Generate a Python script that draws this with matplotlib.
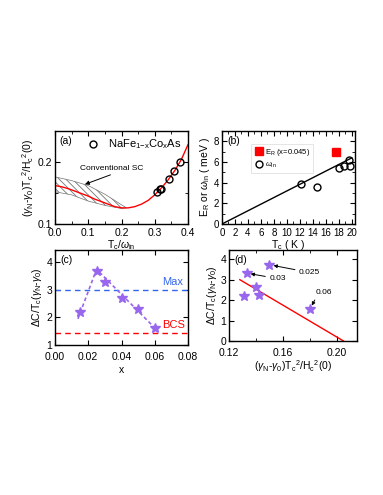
import numpy as np
import matplotlib
matplotlib.use('Agg')
import matplotlib.pyplot as plt

plt.rcParams['font.family'] = ['Liberation Sans', 'DejaVu Sans']
plt.rcParams['font.size'] = 7.5
plt.rcParams['mathtext.fontset'] = 'custom'
plt.rcParams['mathtext.rm'] = 'Liberation Sans'
plt.rcParams['mathtext.it'] = 'Liberation Sans:italic'
plt.rcParams['hatch.linewidth'] = 0.6

# panel (a) data
curve_x = [0, 0.02, 0.04, 0.06, 0.08, 0.10, 0.12, 0.14, 0.16, 0.18, 0.20,
           0.22, 0.24, 0.26, 0.28, 0.30, 0.32, 0.34, 0.36, 0.38, 0.40]
curve_y = [0.162, 0.160, 0.157, 0.153, 0.149, 0.145, 0.140, 0.136, 0.132, 0.128, 0.126,
           0.126, 0.128, 0.132, 0.138, 0.147, 0.158, 0.171, 0.186, 0.204, 0.228]
na_x = [0.308, 0.316, 0.320, 0.342, 0.357, 0.375]
na_y = [0.151, 0.156, 0.157, 0.173, 0.185, 0.200]
hatch_x = [0, 0.05, 0.10, 0.15, 0.20, 0.215]
hatch_hi = [0.176, 0.170, 0.162, 0.148, 0.131, 0.126]
hatch_lo = [0.152, 0.147, 0.137, 0.130, 0.125, 0.126]

# panel (b) data
tc = [12.2, 14.6, 18.0, 18.8, 19.6, 19.8]
w_in = [3.9, 3.6, 5.4, 5.6, 6.2, 5.6]
er_tc = [17.6]
er_val = [7.0]
fit_x = [0, 20]
fit_slope = 0.32

# panel (c) data
x_co = [0.015, 0.025, 0.03, 0.04, 0.05, 0.06]
dc = [2.2, 3.7, 3.3, 2.7, 2.3, 1.6]
guide_x = [0.0138, 0.025, 0.062]
guide_y = [1.95, 3.75, 1.5]
max_val = 3.0
bcs_val = 1.43

# panel (d) data
d_x = [0.150, 0.133, 0.1397, 0.131, 0.1423, 0.180]
d_y = [3.73, 3.32, 2.66, 2.2, 2.25, 1.55]
d_line_x = [0.128, 0.205]
d_line_y = [3.0, 0.0]

purple = '#9966EE'

fig = plt.figure(figsize=(3.83, 4.95), dpi=100)
W, H = 383, 495


def box(l, t, r, b):
    return [l / W, 1 - b / H, (r - l) / W, (b - t) / H]


def style(ax, xpad=3):
    ax.tick_params(which='both', direction='in', top=True, right=True, labelsize=7.5, pad=2)
    ax.tick_params(axis='x', which='both', pad=xpad)
    ax.tick_params(which='major', length=3.5, width=0.8)
    ax.tick_params(which='minor', length=2, width=0.6)
    for s in ax.spines.values():
        s.set_linewidth(1.0)


# (a)
ax1 = fig.add_axes(box(55, 131, 188, 224))
ax1.fill_between(hatch_x, hatch_lo, hatch_hi, facecolor='none', edgecolor='0.45',
                 hatch='\\\\\\\\\\', linewidth=0.5)
ax1.plot(curve_x, curve_y, color='red', lw=1.0)
ax1.plot(na_x, na_y, 'o', mfc='none', mec='black', ms=5, mew=1.0,
         label=r'NaFe$_{1\mathrm{-x}}$Co$_\mathrm{x}$As')
ax1.set_xlim(0, 0.4)
ax1.set_ylim(0.1, 0.25)
ax1.set_xticks([0, 0.1, 0.2, 0.3, 0.4])
ax1.set_xticklabels(['0.0', '0.1', '0.2', '0.3', '0.4'])
ax1.set_xticks([0.05, 0.15, 0.25, 0.35], minor=True)
ax1.set_yticks([0.1, 0.2])
ax1.set_yticks([0.15], minor=True)
ax1.set_xlabel(r'T$_\mathrm{c}$/$\omega_\mathrm{in}$', labelpad=0)
ax1.set_ylabel(r'($\gamma_\mathrm{N}$-$\gamma_\mathrm{0}$)T$_\mathrm{c}$$^2$/H$_\mathrm{c}$$^2$(0)', labelpad=1)
ax1.legend(loc='upper right', frameon=False, fontsize=8, handletextpad=0.3,
           borderaxespad=0.2, bbox_to_anchor=(1.0, 1.0))
ax1.text(0.03, 0.95, '(a)', transform=ax1.transAxes, va='top', fontsize=7.5)
ax1.annotate('Conventional SC', xy=(0.09, 0.164), xytext=(0.075, 0.187),
             fontsize=6, arrowprops=dict(arrowstyle='-|>', lw=0.7, color='black',
                                         mutation_scale=6, shrinkA=0, shrinkB=0,
                                         relpos=(0.6, 0.0)))
style(ax1)

# (b)
ax2 = fig.add_axes(box(222, 131, 355, 224))
ax2.plot(fit_x, [fit_slope * v for v in fit_x], color='black', lw=1.0)
ax2.plot(er_tc, er_val, 's', color='red', ms=5.5, label=r'E$_\mathrm{R}$ (x=0.045)')
ax2.plot(tc, w_in, 'o', mfc='none', mec='black', ms=5, mew=1.0, label=r'$\omega_\mathrm{in}$')
ax2.set_xlim(0, 20.5)
ax2.set_ylim(0, 9)
ax2.set_xticks(np.arange(0, 21, 2))
ax2.set_xticks(np.arange(1, 21, 2), minor=True)
ax2.set_yticks([0, 2, 4, 6, 8])
ax2.set_yticks([1, 3, 5, 7], minor=True)
ax2.set_xlabel(r'T$_\mathrm{c}$ ( K )', labelpad=0)
ax2.set_ylabel(r'E$_\mathrm{R}$ or $\omega_\mathrm{in}$ ( meV )', labelpad=1)
leg = ax2.legend(loc='upper left', bbox_to_anchor=(0.22, 0.86), fontsize=5.5,
                 handletextpad=0.3, borderpad=0.35, fancybox=False, edgecolor='0.85',
                 labelspacing=0.45, handlelength=1.2, borderaxespad=0)
leg.get_frame().set_linewidth(0.6)
ax2.text(0.04, 0.95, '(b)', transform=ax2.transAxes, va='top', fontsize=7.5)
style(ax2)
ax2.tick_params(labelsize=7)

# (c)
ax3 = fig.add_axes(box(55, 250, 188, 345))
ax3.axhline(max_val, color='#3366EE', ls='--', lw=1.0, dashes=(4, 3))
ax3.axhline(bcs_val, color='red', ls='--', lw=1.0, dashes=(4, 3))
ax3.plot(guide_x, guide_y, ls='--', dashes=(2.2, 1.6), color=purple, lw=1.2)
ax3.plot(x_co, dc, '*', color=purple, ms=7)
ax3.text(0.0645, max_val + 0.1, 'Max', color='#3366EE', fontsize=8, va='bottom')
ax3.text(0.0645, bcs_val + 0.1, 'BCS', color='red', fontsize=8, va='bottom')
ax3.set_xlim(0, 0.08)
ax3.set_ylim(1, 4.45)
ax3.set_xticks([0, 0.02, 0.04, 0.06, 0.08])
ax3.set_xticklabels(['0.00', '0.02', '0.04', '0.06', '0.08'])
ax3.set_yticks([1, 2, 3, 4])
ax3.set_xlabel('x', labelpad=2)
ax3.set_ylabel(r'$\Delta$C/T$_\mathrm{c}$($\gamma_\mathrm{N}$-$\gamma_\mathrm{0}$)', labelpad=2)
ax3.text(0.04, 0.95, '(c)', transform=ax3.transAxes, va='top', fontsize=7.5)
style(ax3, xpad=5)

# (d)
ax4 = fig.add_axes(box(229, 250, 357, 341))
ax4.plot(d_line_x, d_line_y, color='red', lw=1.0)
ax4.plot(d_x, d_y, '*', color=purple, ms=7)
arrow = dict(arrowstyle='-|>', lw=0.7, color='black', mutation_scale=5, shrinkA=1, shrinkB=3)
ax4.annotate('0.025', xy=(d_x[0], d_y[0]), xytext=(0.172, 3.35), fontsize=6,
             arrowprops=arrow, va='center')
ax4.annotate('0.03', xy=(d_x[1], d_y[1]), xytext=(0.150, 3.05), fontsize=6,
             arrowprops=arrow, va='center')
ax4.annotate('0.06', xy=(d_x[5], d_y[5]), xytext=(0.184, 2.2), fontsize=6,
             arrowprops=dict(arrow, relpos=(0.1, 0.0)), va='bottom')
ax4.set_xlim(0.12, 0.215)
ax4.set_ylim(0, 4.45)
ax4.set_xticks([0.12, 0.16, 0.20])
ax4.set_xticklabels(['0.12', '0.16', '0.20'])
ax4.set_xticks([0.14, 0.18], minor=True)
ax4.set_yticks([0, 1, 2, 3, 4])
ax4.set_xlabel(r'($\gamma_\mathrm{N}$-$\gamma_\mathrm{0}$)T$_\mathrm{c}$$^2$/H$_\mathrm{c}$$^2$(0)', labelpad=0)
ax4.set_ylabel(r'$\Delta$C/T$_\mathrm{c}$($\gamma_\mathrm{N}$-$\gamma_\mathrm{0}$)', labelpad=1)
ax4.text(0.04, 0.95, '(d)', transform=ax4.transAxes, va='top', fontsize=7.5)
style(ax4, xpad=5)

fig.savefig('out.png', dpi=100)
